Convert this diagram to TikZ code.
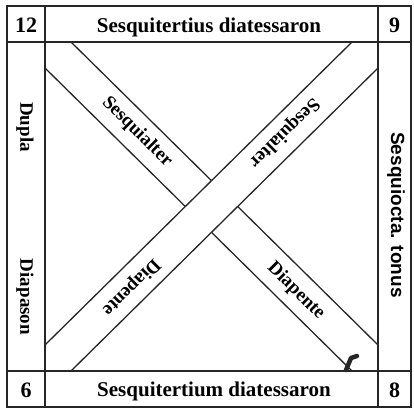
\documentclass[tikz,border=0pt]{standalone}
\usepackage{fontspec}
\setmainfont{Liberation Serif}
\newfontfamily\sansbold{Liberation Sans}
\begin{document}
\begin{tikzpicture}[x=1pt,y=1pt,
  frameline/.style={line width=1.7pt, black!85},
  bandline/.style={line width=1.3pt, black!85},
  toplab/.style={font=\bfseries\fontsize{21}{21}\selectfont, inner sep=0pt},
  numlab/.style={font=\bfseries\fontsize{22}{22}\selectfont, inner sep=0pt},
  sidelab/.style={font=\bfseries\fontsize{19}{19}\selectfont, inner sep=0pt, rotate=-90},
  rightlab/.style={font=\sansbold\bfseries\fontsize{19}{19}\selectfont, inner sep=0pt, rotate=-90},
  diaglab/.style={font=\bfseries\fontsize{19}{19}\selectfont, inner sep=0pt}
]
\useasboundingbox (0,0) rectangle (414,411);
% frame coordinates
\coordinate (OL) at (7,4);
\coordinate (OR) at (411,405);
% band 1 (top-left to bottom-right)
\coordinate (A1) at (71,369);
\coordinate (A2) at (378,66);
\coordinate (B1) at (45,343);
\coordinate (B2) at (352,40);
\draw[bandline] (A1) -- (A2);
\draw[bandline] (B1) -- (B2);
% band 2 (bottom-left to top-right), on top
\coordinate (C1) at (352,369);
\coordinate (C2) at (45,66);
\coordinate (D1) at (378,343);
\coordinate (D2) at (71,40);
\fill[white] (C1) -- (D1) -- (D2) -- (C2) -- cycle;
\draw[bandline] (C1) -- (C2);
\draw[bandline] (D1) -- (D2);
% ink blot
\coordinate (K1) at (346,41);
\coordinate (K2) at (351,53);
\coordinate (K3) at (357,55);
\draw[line width=4.5pt, line cap=round, line join=round, black!85] (K1) -- (K2) -- (K3);
% frame
\draw[frameline] (OL) rectangle (OR);
\draw[frameline] (45,4) -- (45,405);
\draw[frameline] (378,4) -- (378,405);
\draw[frameline] (7,369) -- (411,369);
\draw[frameline] (7,40) -- (411,40);
% numbers
\node[numlab] (n12) at (26,386) {12};
\node[numlab] (n9) at (394.5,386) {9};
\node[numlab] (n6) at (26,21) {6};
\node[numlab] (n8) at (394.5,21) {8};
% top and bottom
\node[toplab] (top) at (209,384) {Sesquitertius diatessaron};
\node[toplab] (bot) at (214,20) {Sesquitertium diatessaron};
% sides
\node[sidelab] (dupla) at (25,284) {Dupla};
\node[sidelab] (diapason) at (25,114) {Diapason};
\node[rightlab] (right) at (396,196) {Sesquiocta. tonus};
% diagonals
\node[diaglab, rotate=-44.7] (s1) at (137,279) {Sesquialter};
\node[diaglab, rotate=-44.7] (d1) at (296,120) {Diapente};
\node[diaglab, rotate=-135.3] (s2) at (284,278) {Sesquialter};
\node[diaglab, rotate=-135.3] (d2) at (131,124) {Diapente};
\end{tikzpicture}
\end{document}
